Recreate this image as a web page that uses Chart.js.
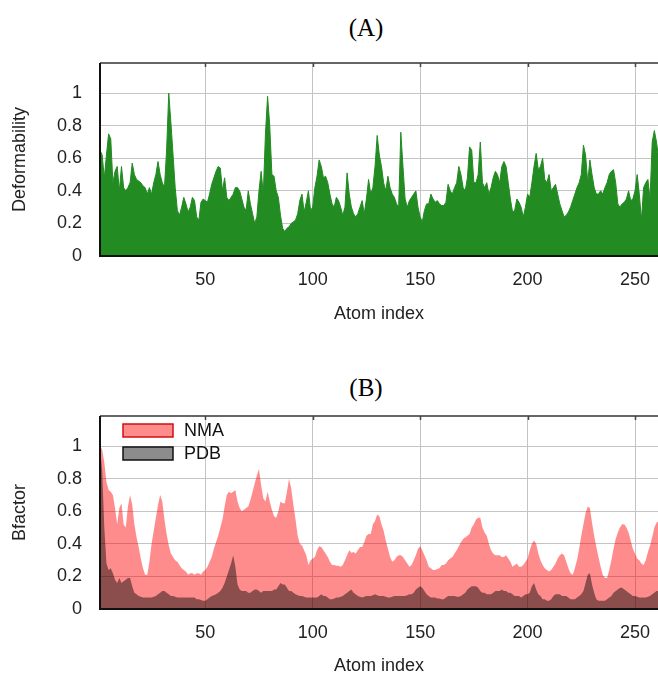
<!DOCTYPE html>
<html>
<head>
<meta charset="utf-8">
<script src="https://cdn.jsdelivr.net/npm/chart.js@4.4.0/dist/chart.umd.min.js"></script>
<style>
  body { margin: 0; width: 658px; height: 675px; overflow: hidden; background: #fff; position: relative; }
  .ttl { position: absolute; left: 266px; width: 200px; text-align: center; line-height: 28px;
         font-family: "Liberation Serif", "Times New Roman", serif; font-size: 25px; color: #000; }
  canvas { position: absolute; left: 0; }
</style>
</head>
<body>
<div class="ttl" style="top:14px">(A)</div>
<div class="ttl" style="top:374px">(B)</div>
<canvas id="chartA" width="658" height="310" style="top:40px"></canvas>
<canvas id="chartB" width="658" height="300" style="top:396px"></canvas>
<script>
// atom index 1..261
var atoms = Array.from({ length: 261 }, (_, k) => k + 1);

var deformability = [
  0.65, 0.62, 0.48, 0.62, 0.75, 0.72, 0.45, 0.52, 0.55, 0.40,
  0.55, 0.42, 0.40, 0.42, 0.45, 0.57, 0.50, 0.47, 0.46, 0.45,
  0.43, 0.42, 0.38, 0.42, 0.38, 0.45, 0.50, 0.58, 0.50, 0.45,
  0.42, 0.65, 1.00, 0.82, 0.62, 0.42, 0.28, 0.25, 0.30, 0.36,
  0.32, 0.27, 0.30, 0.36, 0.34, 0.24, 0.22, 0.33, 0.35, 0.34,
  0.33, 0.38, 0.44, 0.48, 0.52, 0.55, 0.54, 0.40, 0.48, 0.36,
  0.34, 0.36, 0.38, 0.42, 0.42, 0.40, 0.35, 0.30, 0.28, 0.40,
  0.32, 0.26, 0.20, 0.24, 0.40, 0.52, 0.38, 0.75, 0.98, 0.80,
  0.50, 0.49, 0.40, 0.36, 0.25, 0.17, 0.15, 0.17, 0.18, 0.20,
  0.21, 0.22, 0.26, 0.34, 0.38, 0.27, 0.33, 0.40, 0.28, 0.30,
  0.42, 0.49, 0.59, 0.55, 0.48, 0.49, 0.45, 0.38, 0.32, 0.30,
  0.36, 0.34, 0.30, 0.25, 0.30, 0.51, 0.38, 0.30, 0.26, 0.24,
  0.26, 0.30, 0.34, 0.26, 0.35, 0.47, 0.38, 0.42, 0.55, 0.74,
  0.62, 0.55, 0.45, 0.40, 0.49, 0.42, 0.38, 0.36, 0.32, 0.30,
  0.76, 0.55, 0.35, 0.30, 0.34, 0.36, 0.38, 0.40, 0.30, 0.24,
  0.21, 0.28, 0.32, 0.32, 0.38, 0.35, 0.33, 0.34, 0.32, 0.31,
  0.31, 0.33, 0.44, 0.40, 0.38, 0.42, 0.45, 0.55, 0.50, 0.42,
  0.40, 0.48, 0.67, 0.65, 0.45, 0.45, 0.50, 0.70, 0.45, 0.42,
  0.45, 0.38, 0.42, 0.48, 0.52, 0.50, 0.45, 0.55, 0.58, 0.55,
  0.45, 0.35, 0.27, 0.28, 0.35, 0.33, 0.30, 0.24, 0.30, 0.38,
  0.36, 0.45, 0.55, 0.63, 0.53, 0.55, 0.60, 0.47, 0.45, 0.50,
  0.40, 0.42, 0.44, 0.38, 0.32, 0.28, 0.24, 0.25, 0.27, 0.30,
  0.34, 0.38, 0.42, 0.45, 0.50, 0.68, 0.62, 0.45, 0.59, 0.50,
  0.42, 0.38, 0.38, 0.40, 0.38, 0.42, 0.45, 0.50, 0.52, 0.53,
  0.45, 0.32, 0.30, 0.32, 0.33, 0.35, 0.40, 0.34, 0.35, 0.40,
  0.50, 0.38, 0.22, 0.42, 0.45, 0.47, 0.35, 0.70, 0.77, 0.70,
  0.60
];

var bfactorNMA = [
  1.00, 0.98, 0.90, 0.78, 0.73, 0.72, 0.70, 0.62, 0.52, 0.62,
  0.65, 0.52, 0.50, 0.63, 0.70, 0.64, 0.52, 0.44, 0.38, 0.31,
  0.25, 0.21, 0.21, 0.29, 0.40, 0.48, 0.56, 0.64, 0.70, 0.66,
  0.55, 0.46, 0.39, 0.34, 0.32, 0.30, 0.29, 0.27, 0.25, 0.24,
  0.23, 0.21, 0.22, 0.22, 0.21, 0.22, 0.22, 0.21, 0.23, 0.24,
  0.26, 0.29, 0.32, 0.37, 0.41, 0.45, 0.50, 0.55, 0.63, 0.70,
  0.72, 0.71, 0.72, 0.73, 0.66, 0.62, 0.60, 0.61, 0.62, 0.63,
  0.67, 0.72, 0.77, 0.82, 0.86, 0.76, 0.68, 0.66, 0.72, 0.66,
  0.61, 0.57, 0.56, 0.60, 0.66, 0.65, 0.65, 0.72, 0.80, 0.74,
  0.64, 0.55, 0.45, 0.40, 0.39, 0.36, 0.33, 0.27, 0.30, 0.31,
  0.32, 0.36, 0.385, 0.38, 0.36, 0.34, 0.32, 0.29, 0.27, 0.27,
  0.265, 0.265, 0.26, 0.27, 0.30, 0.33, 0.36, 0.345, 0.35, 0.34,
  0.36, 0.38, 0.38, 0.41, 0.45, 0.46, 0.46, 0.52, 0.54, 0.58,
  0.57, 0.52, 0.48, 0.42, 0.37, 0.32, 0.29, 0.30, 0.32, 0.33,
  0.33, 0.32, 0.30, 0.28, 0.26, 0.27, 0.30, 0.33, 0.37, 0.385,
  0.36, 0.33, 0.30, 0.26, 0.25, 0.24, 0.24, 0.245, 0.25, 0.27,
  0.27, 0.28, 0.30, 0.31, 0.32, 0.34, 0.36, 0.385, 0.41, 0.43,
  0.44, 0.45, 0.46, 0.50, 0.52, 0.55, 0.56, 0.56, 0.50, 0.47,
  0.45, 0.40, 0.36, 0.34, 0.33, 0.33, 0.33, 0.32, 0.32, 0.33,
  0.31, 0.29, 0.26, 0.27, 0.28, 0.26, 0.26, 0.27, 0.29, 0.31,
  0.36, 0.40, 0.42, 0.40, 0.34, 0.30, 0.27, 0.25, 0.24, 0.23,
  0.24, 0.26, 0.28, 0.31, 0.33, 0.34, 0.33, 0.29, 0.25, 0.22,
  0.21, 0.25, 0.30, 0.37, 0.45, 0.52, 0.59, 0.63, 0.62, 0.53,
  0.45, 0.38, 0.32, 0.26, 0.21, 0.19, 0.19, 0.24, 0.30, 0.37,
  0.43, 0.47, 0.50, 0.52, 0.52, 0.50, 0.47, 0.42, 0.37, 0.34,
  0.31, 0.30, 0.28, 0.27, 0.30, 0.35, 0.39, 0.44, 0.50, 0.53,
  0.54
];

var bfactorPDB = [
  1.00, 0.85, 0.50, 0.28, 0.24, 0.25, 0.22, 0.18, 0.16, 0.19,
  0.16, 0.17, 0.18, 0.19, 0.19, 0.14, 0.10, 0.09, 0.08, 0.075,
  0.07, 0.07, 0.07, 0.07, 0.07, 0.075, 0.08, 0.09, 0.10, 0.11,
  0.11, 0.10, 0.09, 0.08, 0.08, 0.075, 0.07, 0.07, 0.07, 0.07,
  0.07, 0.07, 0.07, 0.07, 0.07, 0.06, 0.06, 0.055, 0.05, 0.05,
  0.06, 0.07, 0.08, 0.085, 0.09, 0.10, 0.11, 0.13, 0.16, 0.20,
  0.24, 0.28, 0.33, 0.26, 0.15, 0.12, 0.11, 0.11, 0.11, 0.10,
  0.10, 0.11, 0.12, 0.12, 0.11, 0.10, 0.11, 0.11, 0.11, 0.11,
  0.11, 0.12, 0.12, 0.14, 0.16, 0.15, 0.15, 0.13, 0.11, 0.11,
  0.10, 0.09, 0.085, 0.08, 0.08, 0.075, 0.07, 0.07, 0.07, 0.07,
  0.07, 0.07, 0.08, 0.09, 0.08, 0.08, 0.07, 0.06, 0.06, 0.065,
  0.07, 0.07, 0.075, 0.08, 0.09, 0.10, 0.11, 0.12, 0.10, 0.09,
  0.08, 0.075, 0.07, 0.075, 0.08, 0.08, 0.08, 0.085, 0.09, 0.085,
  0.08, 0.08, 0.08, 0.075, 0.07, 0.07, 0.075, 0.08, 0.08, 0.08,
  0.08, 0.08, 0.08, 0.085, 0.09, 0.09, 0.10, 0.12, 0.13, 0.14,
  0.13, 0.11, 0.09, 0.08, 0.07, 0.07, 0.07, 0.065, 0.065, 0.06,
  0.06, 0.07, 0.08, 0.08, 0.08, 0.08, 0.075, 0.075, 0.08, 0.09,
  0.10, 0.12, 0.13, 0.14, 0.14, 0.14, 0.13, 0.11, 0.10, 0.10,
  0.09, 0.09, 0.09, 0.10, 0.11, 0.11, 0.11, 0.12, 0.11, 0.11,
  0.10, 0.10, 0.09, 0.08, 0.08, 0.08, 0.07, 0.08, 0.09, 0.09,
  0.10, 0.14, 0.16, 0.12, 0.09, 0.08, 0.06, 0.06, 0.05, 0.05,
  0.06, 0.08, 0.09, 0.09, 0.09, 0.08, 0.08, 0.08, 0.07, 0.06,
  0.06, 0.06, 0.07, 0.08, 0.09, 0.11, 0.16, 0.21, 0.22, 0.15,
  0.10, 0.06, 0.05, 0.05, 0.05, 0.05, 0.06, 0.07, 0.08, 0.10,
  0.11, 0.12, 0.13, 0.13, 0.12, 0.11, 0.10, 0.09, 0.08, 0.08,
  0.075, 0.07, 0.07, 0.07, 0.07, 0.075, 0.08, 0.09, 0.10, 0.11,
  0.11
];

var xTicks = [50, 100, 150, 200, 250];
var yTicks = [0, 0.2, 0.4, 0.6, 0.8, 1];

var sans = '"Liberation Sans", Arial, sans-serif';

function pts(vals) {
  return vals.map((v, k) => ({ x: atoms[k], y: v }));
}

// frame like gnuplot: dark left/bottom, grey top with small mirror ticks
var frame = {
  id: 'frame',
  afterDraw(chart) {
    var a = chart.chartArea, ctx = chart.ctx, xs = chart.scales.x;
    ctx.save();
    ctx.strokeStyle = '#666';
    ctx.lineWidth = 2;
    ctx.beginPath();
    ctx.moveTo(a.left, a.top);
    ctx.lineTo(a.right, a.top);
    ctx.stroke();
    ctx.lineWidth = 1.5;
    ctx.strokeStyle = '#444';
    ctx.beginPath();
    xTicks.forEach(v => {
      var px = Math.round(xs.getPixelForValue(v)) + 0.5;
      ctx.moveTo(px, a.top);
      ctx.lineTo(px, a.top + 4);
    });
    ctx.stroke();
    ctx.lineWidth = 2;
    ctx.strokeStyle = '#111';
    ctx.beginPath();
    ctx.moveTo(a.left, a.top);
    ctx.lineTo(a.left, a.bottom);
    ctx.lineTo(a.right, a.bottom);
    ctx.stroke();
    ctx.restore();
  }
};

// key box in the top-left corner of the plot
var insetLegend = {
  id: 'insetLegend',
  afterDatasetsDraw(chart, args, o) {
    if (!o.show) return;
    var a = chart.chartArea, ctx = chart.ctx;
    ctx.save();
    chart.data.datasets.forEach((ds, i) => {
      var x = a.left + 23, y = a.top + 8 + i * 23;
      ctx.fillStyle = '#fff';
      ctx.fillRect(x, y, 50, 13);
      ctx.fillStyle = ds.backgroundColor;
      ctx.fillRect(x, y, 50, 13);
      ctx.strokeStyle = ds.keyStroke;
      ctx.lineWidth = 1.5;
      ctx.strokeRect(x, y, 50, 13);
      ctx.fillStyle = '#111';
      ctx.font = '18px ' + sans;
      ctx.textBaseline = 'middle';
      ctx.fillText(ds.label, x + 61, y + 7);
    });
    ctx.restore();
  }
};

function noEdgePad(s) {
  s.paddingLeft = 0; s.paddingRight = 0; s.paddingTop = 0; s.paddingBottom = 0;
}

function makeOptions(yTitle, padTop, axisH, titlePad, showKey) {
  return {
    responsive: false,
    animation: false,
    layout: { padding: { top: padTop, left: 0, right: 0, bottom: 0 } },
    plugins: {
      legend: { display: false },
      tooltip: { enabled: false },
      insetLegend: { show: showKey }
    },
    scales: {
      x: {
        type: 'linear',
        min: 1,
        max: 260.7,
        afterBuildTicks: s => { s.ticks = xTicks.map(v => ({ value: v })); },
        afterFit: s => { s.height = axisH; noEdgePad(s); },
        grid: { color: '#c4c4c4', lineWidth: 1, drawTicks: false },
        border: { display: false },
        ticks: { padding: 13, color: '#222', font: { family: sans, size: 18 } },
        title: { display: true, text: 'Atom index', color: '#222',
                 font: { family: sans, size: 18 }, padding: { top: 0, bottom: titlePad } }
      },
      y: {
        min: 0,
        max: 1.185,
        afterBuildTicks: s => { s.ticks = yTicks.map(v => ({ value: v })); },
        afterFit: s => { s.width = 100; noEdgePad(s); },
        grid: { color: '#c4c4c4', lineWidth: 1, drawTicks: false },
        border: { display: false },
        ticks: { padding: 18, color: '#222', font: { family: sans, size: 18 },
                 callback: v => String(+v.toFixed(1)) },
        title: { display: true, text: yTitle, color: '#222',
                 font: { family: sans, size: 18 }, padding: { top: 9, bottom: 0 } }
      }
    }
  };
}

new Chart(document.getElementById('chartA'), {
  type: 'line',
  data: {
    datasets: [{
      label: 'Deformability',
      data: pts(deformability),
      fill: 'origin',
      backgroundColor: '#228b22',
      borderColor: '#228b22',
      borderWidth: 1,
      pointRadius: 0
    }]
  },
  options: makeOptions('Deformability', 23, 94, 25, false),
  plugins: [frame, insetLegend]
});

new Chart(document.getElementById('chartB'), {
  type: 'line',
  data: {
    datasets: [{
      label: 'NMA',
      data: pts(bfactorNMA),
      fill: 'origin',
      backgroundColor: 'rgba(255, 0, 0, 0.45)',
      keyStroke: '#d01010',
      borderWidth: 0,
      pointRadius: 0,
      order: 2
    }, {
      label: 'PDB',
      data: pts(bfactorPDB),
      fill: 'origin',
      backgroundColor: 'rgba(0, 0, 0, 0.45)',
      keyStroke: '#111',
      borderWidth: 0,
      pointRadius: 0,
      order: 1
    }]
  },
  options: makeOptions('Bfactor', 20, 87, 19, true),
  plugins: [frame, insetLegend]
});
</script>
</body>
</html>
